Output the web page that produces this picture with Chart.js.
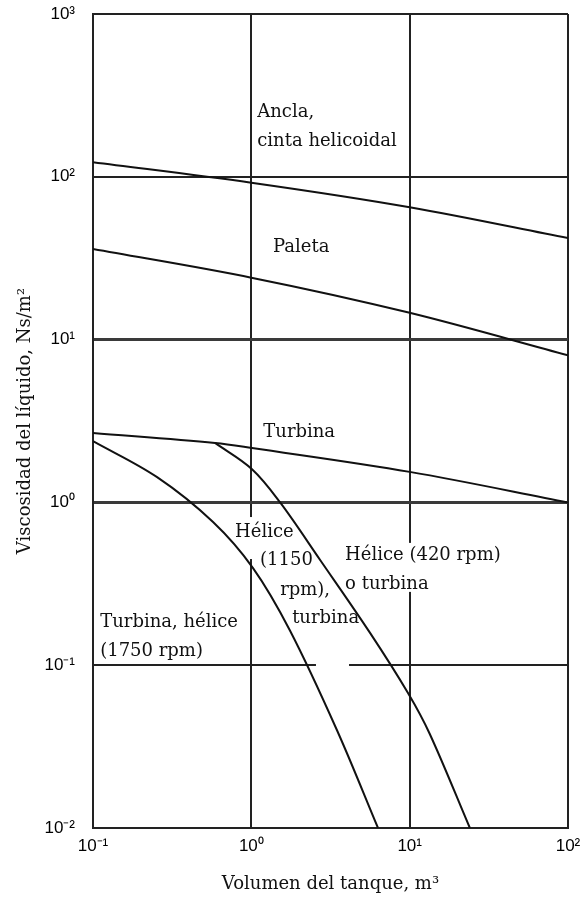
<!DOCTYPE html>
<html lang="es">
<head>
<meta charset="utf-8">
<title>Viscosidad del líquido vs volumen del tanque</title>
<script src="https://cdn.jsdelivr.net/npm/chart.js@4.4.1/dist/chart.umd.min.js"></script>
<style>
  html, body { margin: 0; padding: 0; background: #fff; }
  #chartBox { width: 581px; height: 899px; }
</style>
</head>
<body>
<div id="chartBox"><canvas id="agitatorChart" width="581" height="899"></canvas></div>
<script>
// Decade ticks for both log axes
const xTicks = [0.1, 1, 10, 100];
const xTickLabels = ['10⁻¹', '10⁰', '10¹', '10²'];
const yTicks = [0.01, 0.1, 1, 10, 100, 1000];
const yTickLabels = ['10⁻²', '10⁻¹', '10⁰', '10¹', '10²', '10³'];

// Upper limit curves: tank volume (m³) -> liquid viscosity (Ns/m²)
const anclaVol = [0.1, 1, 10, 100];
const anclaVisc = [123, 92, 65, 42];

const paletaVol = [0.1, 1, 10, 100];
const paletaVisc = [36, 24, 14.6, 8];

const turbinaVol = [0.1, 0.59, 1.01, 10, 100];
const turbinaVisc = [2.67, 2.32, 2.16, 1.54, 1.0];

const helice420Vol = [0.59, 1.01, 1.52, 2.72, 5.62, 9.76, 13.4, 24.0];
const helice420Visc = [2.32, 1.60, 1.0, 0.443, 0.158, 0.0675, 0.0378, 0.01];

const helice1150Vol = [0.1, 0.254, 0.573, 1.025, 1.75, 3.47, 6.31];
const helice1150Visc = [2.38, 1.43, 0.758, 0.395, 0.164, 0.040, 0.01];

// Region labels, anchored at (volume, viscosity) of the first baseline
const notes = [
    { lines: ['Ancla,', 'cinta helicoidal'], x: 1.09, y: 233 },
    { lines: ['Paleta'], x: 1.37, y: 34.5 },
    { lines: ['Turbina'], x: 1.19, y: 2.52 },
    { lines: ['Hélice'], x: 0.79, y: 0.612 },
    { lines: ['(1150'], x: 1.135, y: 0.412 },
    { lines: ['rpm),'], x: 1.52, y: 0.27 },
    { lines: ['turbina'], x: 1.81, y: 0.1815 },
    { lines: ['Hélice (420 rpm)', 'o turbina'], x: 3.91, y: 0.443 },
    { lines: ['Turbina, hélice', '(1750 rpm)'], x: 0.111, y: 0.172 }
];

// White label backgrounds that interrupt the grid lines
const blanks = [
    { x0: 0.755, x1: 2.03, y0: 0.813, y1: 0.449 },
    { x0: 3.79, x1: 43, y0: 0.564, y1: 0.282 },
    { x0: 2.56, x1: 4.14, y0: 0.108, y1: 0.091 }
];

// Rows drawn a little heavier than the rest of the grid
const heavyRows = [1, 10];

const SERIF = '"DejaVu Serif", "Liberation Serif", serif';
const LINE_H = 29;

const toPoints = (xs, ys) => xs.map((x, i) => ({ x, y: ys[i] }));

const curve = (label, xs, ys) => ({
    label,
    data: toPoints(xs, ys),
    borderColor: '#111',
    borderWidth: 2,
    pointRadius: 0,
    fill: false,
    tension: 0.35
});

const notesPlugin = {
    id: 'notes',
    beforeDatasetsDraw(chart) {
        const { ctx, scales: { x, y } } = chart;
        ctx.save();
        ctx.fillStyle = '#fff';
        blanks.forEach(b => {
            const left = x.getPixelForValue(b.x0);
            const top = y.getPixelForValue(b.y0);
            ctx.fillRect(left, top, x.getPixelForValue(b.x1) - left, y.getPixelForValue(b.y1) - top);
        });
        ctx.restore();
    },
    afterDatasetsDraw(chart) {
        const { ctx, scales: { x, y } } = chart;
        ctx.save();
        ctx.font = '18px ' + SERIF;
        ctx.fillStyle = '#111';
        ctx.textAlign = 'left';
        ctx.textBaseline = 'alphabetic';
        notes.forEach(n => {
            const px = x.getPixelForValue(n.x);
            const py = y.getPixelForValue(n.y);
            n.lines.forEach((line, i) => ctx.fillText(line, px, py + i * LINE_H));
        });
        ctx.restore();
    }
};

const borderStyle = { display: true, color: '#222', width: 2 };
const tickFont = { family: '"Liberation Sans", Arial, sans-serif', size: 17 };

const ctx = document.getElementById('agitatorChart').getContext('2d');
new Chart(ctx, {
    type: 'line',
    data: {
        datasets: [
            curve('Ancla, cinta helicoidal', anclaVol, anclaVisc),
            curve('Paleta', paletaVol, paletaVisc),
            curve('Turbina', turbinaVol, turbinaVisc),
            curve('Hélice (420 rpm) o turbina', helice420Vol, helice420Visc),
            curve('Turbina, hélice (1150/1750 rpm)', helice1150Vol, helice1150Visc)
        ]
    },
    options: {
        responsive: false,
        animation: false,
        devicePixelRatio: 1,
        layout: { padding: { left: 0, top: 14, right: 13, bottom: 0 } },
        plugins: {
            legend: { display: false },
            tooltip: { enabled: false }
        },
        scales: {
            x: {
                type: 'logarithmic',
                min: 0.1,
                max: 100,
                afterBuildTicks: scale => { scale.ticks = xTicks.map(v => ({ value: v })); },
                afterFit: scale => {
                    scale.height = 71;
                    scale.paddingLeft = 0;
                    scale.paddingRight = 0;
                },
                grid: { color: '#222', lineWidth: 2, drawTicks: false },
                border: borderStyle,
                ticks: {
                    autoSkip: false,
                    maxRotation: 0,
                    padding: 8,
                    color: '#000',
                    font: tickFont,
                    callback: (value, i) => xTickLabels[i]
                },
                title: {
                    display: true,
                    text: 'Volumen del tanque, m³',
                    color: '#111',
                    font: { family: SERIF, size: 18 },
                    padding: { top: 0, bottom: 4 }
                }
            },
            y: {
                type: 'logarithmic',
                min: 0.01,
                max: 1000,
                afterBuildTicks: scale => { scale.ticks = yTicks.map(v => ({ value: v })); },
                afterFit: scale => {
                    scale.width = 93;
                    scale.paddingTop = 0;
                    scale.paddingBottom = 0;
                },
                grid: {
                    color: c => heavyRows.includes(c.tick && c.tick.value) ? '#3a3a3a' : '#222',
                    lineWidth: c => heavyRows.includes(c.tick && c.tick.value) ? 3 : 2,
                    drawTicks: false
                },
                border: borderStyle,
                ticks: {
                    autoSkip: false,
                    padding: 18,
                    color: '#000',
                    font: tickFont,
                    callback: (value, i) => yTickLabels[i]
                },
                title: {
                    display: true,
                    text: 'Viscosidad del líquido, Ns/m²',
                    color: '#111',
                    font: { family: SERIF, size: 18 },
                    padding: { top: 15, bottom: 0 }
                }
            }
        }
    },
    plugins: [notesPlugin]
});
</script>
</body>
</html>
